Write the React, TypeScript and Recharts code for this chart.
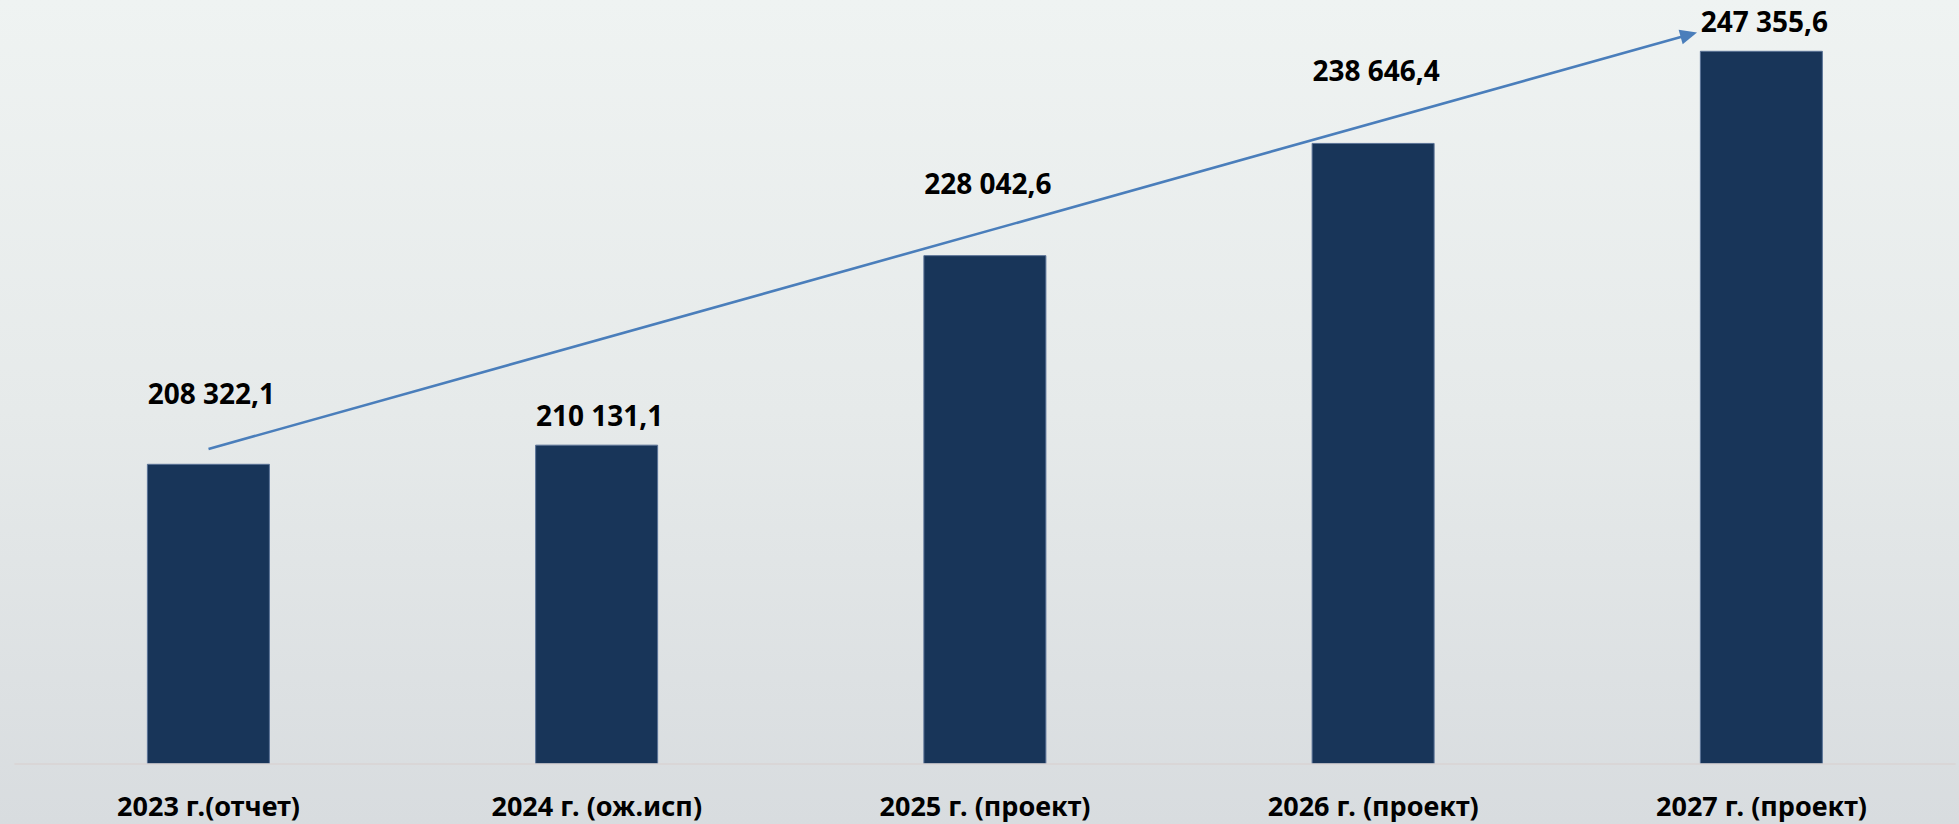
import React from "react";
import { BarChart, Bar, XAxis, YAxis, LabelList, ReferenceLine } from "recharts";

const categories = [
  "2023 г.(отчет)",
  "2024 г. (ож.исп)",
  "2025 г. (проект)",
  "2026 г. (проект)",
  "2027 г. (проект)",
];
const values = [208322.1, 210131.1, 228042.6, 238646.4, 247355.6];
const valueLabels = ["208 322,1", "210 131,1", "228 042,6", "238 646,4", "247 355,6"];

// trend arrow annotation (category index, value)
const arrowStart = { x: 0, y: 209770 };
const arrowEnd = { x: 3.834, y: 249133 };

const data = categories.map((c, i) => ({ name: c, value: values[i], label: valueLabels[i], idx: i }));

const W = 1959;
const H = 824;
const FONT = "'Noto Sans', sans-serif";

const labelGap = [60, 19, 62, 62, 19];

const ValueLabel = (props: any) => {
  const { x, y, width, index } = props;
  const gap = labelGap[index] ?? 20;
  return (
    <text
      x={x + width / 2 + 3}
      y={y - gap}
      textAnchor="middle"
      fontFamily={FONT}
      fontWeight={700}
      fontSize={28}
      fill="#000"
    >
      {valueLabels[index]}
    </text>
  );
};

const Tick = (props: any) => {
  const { x, y, payload } = props;
  return (
    <text
      x={x}
      y={y + 6}
      textAnchor="middle"
      fontFamily={FONT}
      fontWeight={700}
      fontSize={27}
      fill="#000"
    >
      {payload.value}
    </text>
  );
};

const Arrow = (props: any) => {
  const { x1, y1, x2, y2 } = props;
  if ([x1, y1, x2, y2].some((v) => typeof v !== "number" || isNaN(v))) return null;
  const dx = x2 - x1;
  const dy = y2 - y1;
  const len = Math.sqrt(dx * dx + dy * dy);
  const ux = dx / len;
  const uy = dy / len;
  const hl = 17;
  const hw = 7.5;
  const bx = x2 - ux * hl;
  const by = y2 - uy * hl;
  const px = -uy;
  const py = ux;
  const pts = `${x2},${y2} ${bx + px * hw},${by + py * hw} ${bx - px * hw},${by - py * hw}`;
  return (
    <g>
      <line x1={x1} y1={y1} x2={bx + ux * 2} y2={by + uy * 2} stroke="#4a7ebb" strokeWidth={2.6} />
      <polygon points={pts} fill="#4a7ebb" />
    </g>
  );
};

export default function App() {
  return (
    <div
      style={{
        position: "absolute",
        left: 0,
        top: 0,
        width: W,
        height: H,
        background: "linear-gradient(to bottom, #eff3f2 0%, #e6eaea 50%, #d8dcdf 100%)",
      }}
    >
      <BarChart
        width={W}
        height={H}
        data={data}
        margin={{ top: 23.3, right: 3.4, bottom: 0, left: 14.4 }}
      >
        <XAxis
          dataKey="name"
          height={60}
          tickLine={false}
          axisLine={{ stroke: "#d9d3d3", strokeWidth: 1.5 }}
          tick={<Tick />}
          tickMargin={40}
          interval={0}
        />
        <XAxis
          xAxisId="num"
          dataKey="idx"
          type="number"
          domain={[-0.5, 4.5]}
          hide
          allowDataOverflow
        />
        <YAxis hide domain={[180000, 250000]} allowDataOverflow />
        <Bar
          dataKey="value"
          fill="#183559"
          stroke="#5a7397"
          strokeWidth={1}
          barSize={122}
          isAnimationActive={false}
        >
          <LabelList dataKey="label" content={<ValueLabel />} />
        </Bar>
        <ReferenceLine
          xAxisId="num"
          segment={[arrowStart, arrowEnd]}
          ifOverflow="visible"
          shape={<Arrow />}
        />
      </BarChart>
    </div>
  );
}
